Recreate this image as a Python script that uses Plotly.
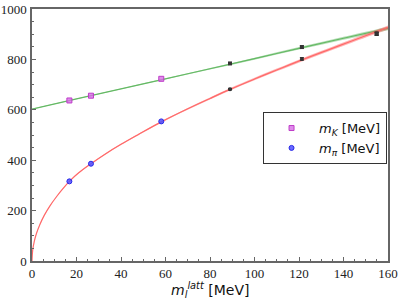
import plotly.graph_objects as go

# ---- data ----
kaon_x = [16.8, 26.5, 58.1]
kaon_y = [637, 656, 723]
pion_x = [16.8, 26.5, 58.1]
pion_y = [316, 386, 554]

black_x = [89.0, 121.3, 154.9]
black_kaon_y = [784, 849, 902]
black_pion_y = [682, 802, 902]
black_err = [3, 5, 6]

# fit curves
pfit_x = [0, 0.3, 1, 2, 3.5, 5.5, 8, 11, 14, 16.8, 21, 26.5, 33, 40, 48, 58.1,
          70, 80, 89, 100, 110, 121.3, 132, 144, 154.9, 160]
pfit_y = [0, 42, 77, 109, 144, 181, 218, 255, 288, 316, 350, 386, 425, 463, 503, 552,
          604, 645, 681, 722, 758, 798, 834, 874, 910, 927]
pfit_err = [0, 0.5, 0.8, 1, 1, 1.2, 1.3, 1.4, 1.5, 1.6, 1.8, 2, 2.2, 2.5, 2.8, 3,
            3.5, 4, 4.5, 5, 5.5, 6, 6.5, 7, 7.5, 8]

kfit_x = [0, 20, 40, 60, 80, 100, 120, 140, 160]
kfit_y = [603, 643, 683, 723, 763, 803, 844, 884, 923]
kfit_err = [1.5, 1.5, 1.8, 2.2, 3, 4, 5, 6, 7]

x_ticks = [0, 20, 40, 60, 80, 100, 120, 140, 160]
y_ticks = [0, 200, 400, 600, 800, 1000]

fig = go.Figure()

def band(xs, ys, es, fill, line):
    up = [y + e for y, e in zip(ys, es)]
    lo = [y - e for y, e in zip(ys, es)]
    fig.add_trace(go.Scatter(x=xs, y=up, mode="lines", line=dict(width=0, shape="spline"),
                             showlegend=False, hoverinfo="skip"))
    fig.add_trace(go.Scatter(x=xs, y=lo, mode="lines", line=dict(width=0, shape="spline"),
                             fill="tonexty", fillcolor=fill, showlegend=False, hoverinfo="skip"))
    fig.add_trace(go.Scatter(x=xs, y=ys, mode="lines", line=dict(color=line, width=1.2, shape="spline"),
                             showlegend=False, hoverinfo="skip"))

band(kfit_x, kfit_y, kfit_err, "rgba(90,180,90,0.45)", "rgb(100,185,100)")
band(pfit_x, pfit_y, pfit_err, "rgba(255,90,90,0.45)", "rgb(255,105,105)")

fig.add_trace(go.Scatter(x=black_x, y=black_kaon_y, mode="markers",
                         marker=dict(symbol="square", size=4, color="#333"),
                         error_y=dict(type="data", array=black_err, color="#222", thickness=1, width=2),
                         showlegend=False))
fig.add_trace(go.Scatter(x=black_x, y=black_pion_y, mode="markers",
                         marker=dict(symbol="circle", size=4, color="#333"),
                         error_y=dict(type="data", array=black_err, color="#222", thickness=1, width=2),
                         showlegend=False))

fig.add_trace(go.Scatter(x=kaon_x, y=kaon_y, mode="markers",
                         marker=dict(symbol="square", size=5, color="rgba(215,110,230,0.8)",
                                     line=dict(color="rgb(190,60,200)", width=1)),
                         name="<i>m</i><sub><i>K</i></sub> [MeV]"))
fig.add_trace(go.Scatter(x=pion_x, y=pion_y, mode="markers",
                         marker=dict(symbol="circle", size=5, color="rgba(80,80,255,0.85)",
                                     line=dict(color="rgb(40,40,230)", width=1)),
                         name="<i>m</i><sub><i>π</i></sub> [MeV]"))

axis_common = dict(showline=True, mirror=True, linecolor="#666", linewidth=1.5,
                   ticks="inside", ticklen=4, tickcolor="#666", showgrid=False, zeroline=False,
                   automargin=False, ticklabeloverflow="allow",
                   tickfont=dict(family="Liberation Serif", size=13, color="#222"))

fig.update_xaxes(range=[0, 160], tickvals=x_ticks,
                 minor=dict(ticks="inside", ticklen=2, dtick=5, tickcolor="#666"),
                 **axis_common)
fig.update_yaxes(range=[0, 1000], tickvals=y_ticks, ticklabelstandoff=1,
                 minor=dict(ticks="inside", ticklen=2, dtick=50, tickcolor="#666"),
                 **axis_common)

fig.add_annotation(text="<i>m</i><sub><i>l</i></sub><sup><i>latt</i></sup> [MeV]",
                   xref="paper", yref="paper", x=0.5, y=0, xanchor="center", yanchor="top",
                   yshift=-17, showarrow=False,
                   font=dict(family="DejaVu Sans", size=14, color="#111"))

fig.update_layout(
    width=399, height=299,
    margin=dict(l=32, r=11, t=9, b=38),
    plot_bgcolor="white", paper_bgcolor="white",
    legend=dict(x=0.649, y=0.591, xanchor="left", yanchor="top", traceorder="normal",
                bgcolor="white", bordercolor="#333", borderwidth=1,
                font=dict(family="DejaVu Sans", size=13, color="#111"),
                itemwidth=45),
)

fig.write_html("out.html", config={"displayModeBar": False},
               post_script="document.body.style.margin='0';document.body.style.overflow='hidden';")
